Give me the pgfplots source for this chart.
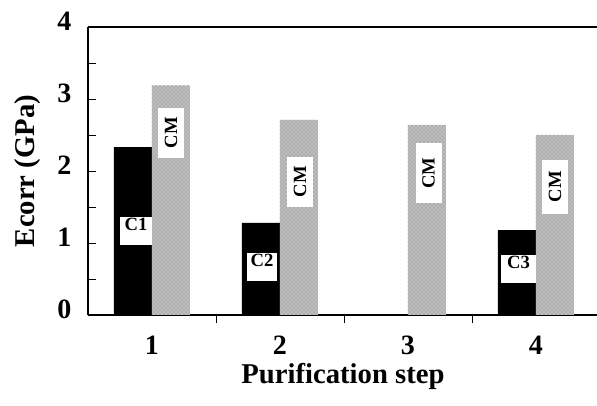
\documentclass[border=0pt]{standalone}
\usepackage{fontspec}
\setmainfont{Liberation Serif}
\usepackage{pgfplots}
\pgfplotsset{compat=1.18}
\usetikzlibrary{patterns}
\begin{document}
\begin{tikzpicture}
\begin{axis}[
  at={(0,0)}, anchor=south west,
  scale only axis, width=384pt, height=216pt,
  xmin=0.5, xmax=4.5, ymin=0, ymax=4,
  axis x line*=box, axis y line*=left,
  axis line style={-, line width=2.2pt},
  xtick={1,2,3,4}, minor xtick={1.5,2.5,3.5},
  major x tick style={draw=none},
  ytick={0,1,2,3,4}, minor ytick={0.5,1.5,2.5,3.5},
  xtick pos=bottom, ytick pos=left,
  tick align=inside, major tick length=6pt, minor tick length=6pt,
  tick style={black, line width=0.6pt},
  /pgf/number format/assume math mode=true,
  ticklabel style={font=\fontsize{21}{21}\selectfont\bfseries},
  xticklabel style={yshift=-6pt},
  yticklabel style={xshift=-9pt, yshift=4.5pt},
  xlabel={Purification step}, ylabel={Ecorr (GPa)},
  label style={font=\fontsize{21.5}{21.5}\selectfont\bfseries},
  xlabel style={at={(axis description cs:0.498,-0.215)}, anchor=center},
  ylabel style={at={(axis description cs:-0.117,0.5)}, anchor=center},
  ybar, bar width=28.5pt,
  clip=false
]
\addplot[fill=black, draw=none, bar shift=-14.25pt] coordinates {(1,2.33) (2,1.28) (4,1.18)};
\addplot[fill=black!25, draw=none, bar shift=14.25pt, postaction={pattern=crosshatch dots, pattern color=black!55}] coordinates {(1,3.19) (2,2.71) (3,2.64) (4,2.50)};
\tikzset{cbox/.style={fill=white, inner sep=0pt, font=\fontsize{14}{14}\selectfont\bfseries, align=center, text height=10.5pt, text depth=10.5pt},
         mbox/.style={fill=white, inner sep=0pt, font=\fontsize{14}{14}\selectfont\bfseries, align=center, rotate=90, text height=14pt, text depth=5.5pt}}
\node[cbox, text width=24pt] at (axis cs:0.875,1.17) {C1};
\node[cbox, text width=22.5pt] at (axis cs:1.859,0.67) {C2};
\node[cbox, text width=26pt] at (axis cs:3.863,0.64) {C3};
\node[mbox, text width=38pt] at (axis cs:1.152,2.53) {CM};
\node[mbox, text width=37.5pt] at (axis cs:2.16,1.85) {CM};
\node[mbox, text width=45pt] at (axis cs:3.164,1.97) {CM};
\node[mbox, text width=40pt] at (axis cs:4.152,1.78) {CM};
\end{axis}
\pgfresetboundingbox
\path[use as bounding box] (-66pt,-68.25pt) rectangle (381.75pt,236.25pt);
\end{tikzpicture}
\end{document}
